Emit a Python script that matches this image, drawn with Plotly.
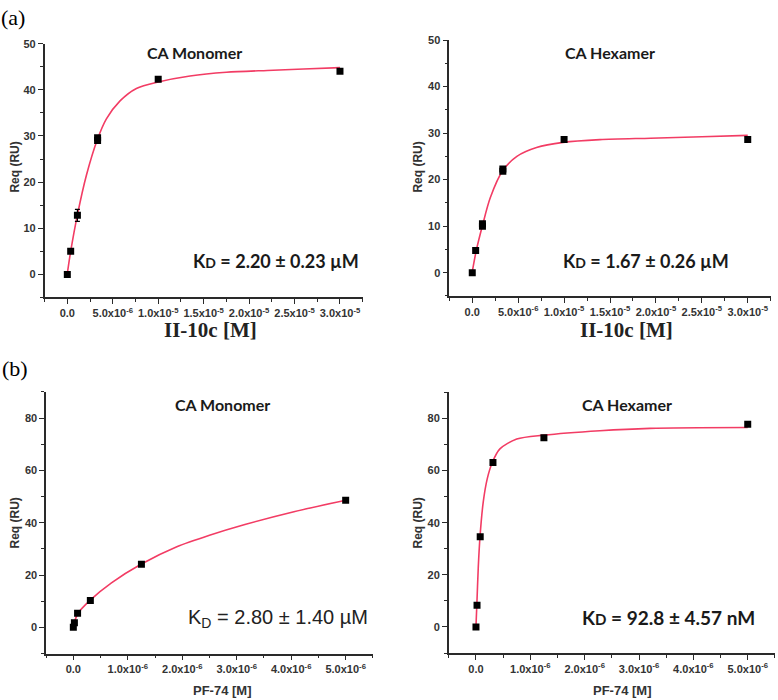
import plotly.graph_objects as go

W, H = 778, 700

# ---------------- data ----------------
# (a) II-10c
tl_x = [0, 3.7e-7, 1.11e-6, 3.33e-6, 3.33e-6, 1.0e-5, 3.0e-5]
tl_y = [0, 5.0, 12.8, 29.0, 29.6, 42.3, 44.0]
tl_err = [0, 0, 1.3, 0, 0, 0, 0]
tl_fit_x = [0, 3.7e-7, 1.1e-6, 2.1e-6, 3.3e-6, 4.3e-6, 5.8e-6, 7.6e-6, 1.0e-5, 1.35e-5, 1.75e-5, 2.2e-5, 2.6e-5, 3.0e-5]
tl_fit_y = [0.2, 5.0, 12.8, 21.5, 29.2, 33.7, 37.6, 40.3, 41.7, 43.0, 43.8, 44.2, 44.5, 44.8]

tr_x = [0, 3.7e-7, 1.11e-6, 1.11e-6, 3.33e-6, 3.33e-6, 1.0e-5, 3.0e-5]
tr_y = [0, 4.8, 10.0, 10.5, 21.8, 22.3, 28.6, 28.6]
tr_fit_x = [0, 4.4e-7, 1.12e-6, 1.96e-6, 3.34e-6, 4.86e-6, 7.0e-6, 9.9e-6, 1.39e-5, 1.94e-5, 2.5e-5, 3.0e-5]
tr_fit_y = [0.2, 4.8, 10.2, 16.1, 22.0, 25.0, 26.9, 28.0, 28.6, 28.9, 29.2, 29.5]

# (b) PF-74
bl_x = [0, 1.95e-8, 7.8e-8, 3.125e-7, 1.25e-6, 5.0e-6]
bl_y = [0, 1.8, 5.4, 10.3, 24.1, 48.6]
bl_fit_x = [0, 2e-8, 8e-8, 3.1e-7, 7.0e-7, 1.25e-6, 1.9e-6, 2.5e-6, 3.15e-6, 4.05e-6, 5.0e-6]
bl_fit_y = [0.2, 1.9, 5.2, 10.4, 17.0, 24.2, 30.8, 35.2, 39.3, 44.2, 48.6]

br_x = [0, 1.95e-8, 7.8e-8, 3.125e-7, 1.25e-6, 5.0e-6]
br_y = [0, 8.3, 34.6, 63.1, 72.6, 77.8]
br_fit_x = [0, 1.5e-8, 4.2e-8, 7.4e-8, 1.34e-7, 2.08e-7, 3.0e-7, 4.4e-7, 7.5e-7, 1.25e-6, 2.28e-6, 3.2e-6, 5.0e-6]
br_fit_y = [0.2, 8.0, 22.7, 34.6, 48.0, 56.9, 63.1, 68.3, 72.1, 73.6, 75.3, 76.2, 76.5]

top_tickvals = [0, 5e-6, 1e-5, 1.5e-5, 2e-5, 2.5e-5, 3e-5]
top_ticktext = ["0.0", "5.0x10<sup>-6</sup>", "1.0x10<sup>-5</sup>", "1.5x10<sup>-5</sup>",
                "2.0x10<sup>-5</sup>", "2.5x10<sup>-5</sup>", "3.0x10<sup>-5</sup>"]
bot_tickvals = [0, 1e-6, 2e-6, 3e-6, 4e-6, 5e-6]
bot_ticktext = ["0.0", "1.0x10<sup>-6</sup>", "2.0x10<sup>-6</sup>", "3.0x10<sup>-6</sup>",
                "4.0x10<sup>-6</sup>", "5.0x10<sup>-6</sup>"]

FIT_COLOR = "#f23c64"
AX_COLOR = "#2a2a2a"
TICK_FONT = dict(family="Liberation Sans", size=11, color="#333333", weight="bold")


def fx(p):
    return p / W


def fy(p):
    return 1 - p / H


fig = go.Figure()

panels = [
    (tl_x, tl_y, tl_err, tl_fit_x, tl_fit_y, "x", "y"),
    (tr_x, tr_y, None, tr_fit_x, tr_fit_y, "x2", "y2"),
    (bl_x, bl_y, None, bl_fit_x, bl_fit_y, "x3", "y3"),
    (br_x, br_y, None, br_fit_x, br_fit_y, "x4", "y4"),
]

for xs, ys, err, fxs, fys, xa, ya in panels:
    fig.add_trace(go.Scatter(x=fxs, y=fys, mode="lines",
                             line=dict(color=FIT_COLOR, width=1.6, shape="spline", smoothing=0.8),
                             xaxis=xa, yaxis=ya, showlegend=False, hoverinfo="skip"))
    sc = dict(x=xs, y=ys, mode="markers", marker=dict(symbol="square", size=7, color="black"),
              xaxis=xa, yaxis=ya, showlegend=False)
    if err is not None:
        sc["error_y"] = dict(type="data", array=err, visible=True, color="black", thickness=1.2, width=2.5)
    fig.add_trace(go.Scatter(**sc))

common_ax = dict(showline=True, linecolor=AX_COLOR, linewidth=1.5, ticks="outside", ticklen=5,
                 tickwidth=1.3, tickcolor=AX_COLOR, showgrid=False, zeroline=False, tickfont=TICK_FONT,
                 mirror=False)


def minor(d):
    return dict(dtick=d, tick0=0, ticklen=3, tickcolor=AX_COLOR, ticks="outside", showgrid=False)


layout = dict(
    width=W, height=H, margin=dict(l=0, r=0, t=0, b=0),
    paper_bgcolor="white", plot_bgcolor="white",
    xaxis=dict(domain=[fx(44.6), fx(362.7)], range=[-2.5e-6, 3.25e-5], anchor="y",
               tickmode="array", tickvals=top_tickvals, ticktext=top_ticktext,
               minor=minor(2.5e-6), **common_ax),
    yaxis=dict(domain=[fy(294), fy(38)], range=[-5, 50], anchor="x", dtick=10,
               minor=minor(5), **common_ax),
    xaxis2=dict(domain=[fx(449.3), fx(770.7)], range=[-2.5e-6, 3.25e-5], anchor="y2",
                tickmode="array", tickvals=top_tickvals, ticktext=top_ticktext,
                minor=minor(2.5e-6), **common_ax),
    yaxis2=dict(domain=[fy(292.5), fy(34.3)], range=[-5, 50], anchor="x2", dtick=10,
                minor=minor(5), **common_ax),
    xaxis3=dict(domain=[fx(46.1), fx(372.9)], range=[-0.5e-6, 5.5e-6], anchor="y3",
                tickmode="array", tickvals=bot_tickvals, ticktext=bot_ticktext,
                minor=minor(0.5e-6), **common_ax),
    yaxis3=dict(domain=[fy(653.1), fy(389.3)], range=[-10, 90], anchor="x3", dtick=20,
                minor=minor(10), **common_ax),
    xaxis4=dict(domain=[fx(448.8), fx(774.9)], range=[-0.5e-6, 5.5e-6], anchor="y4",
                tickmode="array", tickvals=bot_tickvals, ticktext=bot_ticktext,
                minor=minor(0.5e-6), **common_ax),
    yaxis4=dict(domain=[fy(652.6), fy(389.7)], range=[-10, 90], anchor="x4", dtick=20,
                minor=minor(10), **common_ax),
)
fig.update_layout(**layout)

ann = []


def txt(x, y, text, size, family="Lato", weight="bold", color="#1a1a1a", angle=0, xanchor="center"):
    ann.append(dict(x=fx(x), y=fy(y), xref="paper", yref="paper", text=text, showarrow=False,
                    xanchor=xanchor, yanchor="middle", textangle=angle,
                    font=dict(family=family, size=size, color=color, weight=weight)))


# panel labels
txt(13, 12, "(a)", 22, family="Liberation Serif", weight="normal", color="black")
txt(15, 366, "(b)", 22, family="Liberation Serif", weight="normal", color="black")

# panel titles
txt(195, 47, "CA Monomer", 16)
txt(610, 47, "CA Hexamer", 16)
txt(222, 402, "CA Monomer", 16)
txt(627, 402, "CA Hexamer", 16)

# KD texts
txt(276, 257, "K<span style='font-size:14px'>D</span> = 2.20 ± 0.23 µM", 18)
txt(646, 257, "K<span style='font-size:14px'>D</span> = 1.67 ± 0.26 µM", 18)
txt(278, 618, "K<sub>D</sub> = 2.80 ± 1.40 µM", 20, family="Liberation Sans", weight="normal", color="#222222")
txt(668, 617, "K<span style='font-size:15px'>D</span> = 92.8 ± 4.57 nM", 19)

# y titles
for (x, y) in [(15, 163), (418, 163), (15, 522), (418, 522)]:
    txt(x, y, "Req (RU)", 12, family="Liberation Sans", weight="bold", color="#333333", angle=-90)

# x titles
txt(210, 327, "II-10c [M]", 21, family="Liberation Serif", weight="bold", color="#222222")
txt(626, 327, "II-10c [M]", 21, family="Liberation Serif", weight="bold", color="#222222")
txt(222, 690, "PF-74 [M]", 13, family="Liberation Sans", weight="bold", color="#333333")
txt(622, 690, "PF-74 [M]", 13, family="Liberation Sans", weight="bold", color="#333333")

fig.update_layout(annotations=ann)
fig.write_html("out.html", config={"displayModeBar": False},
               post_script="document.body.style.margin='0';document.body.style.overflow='hidden';")
